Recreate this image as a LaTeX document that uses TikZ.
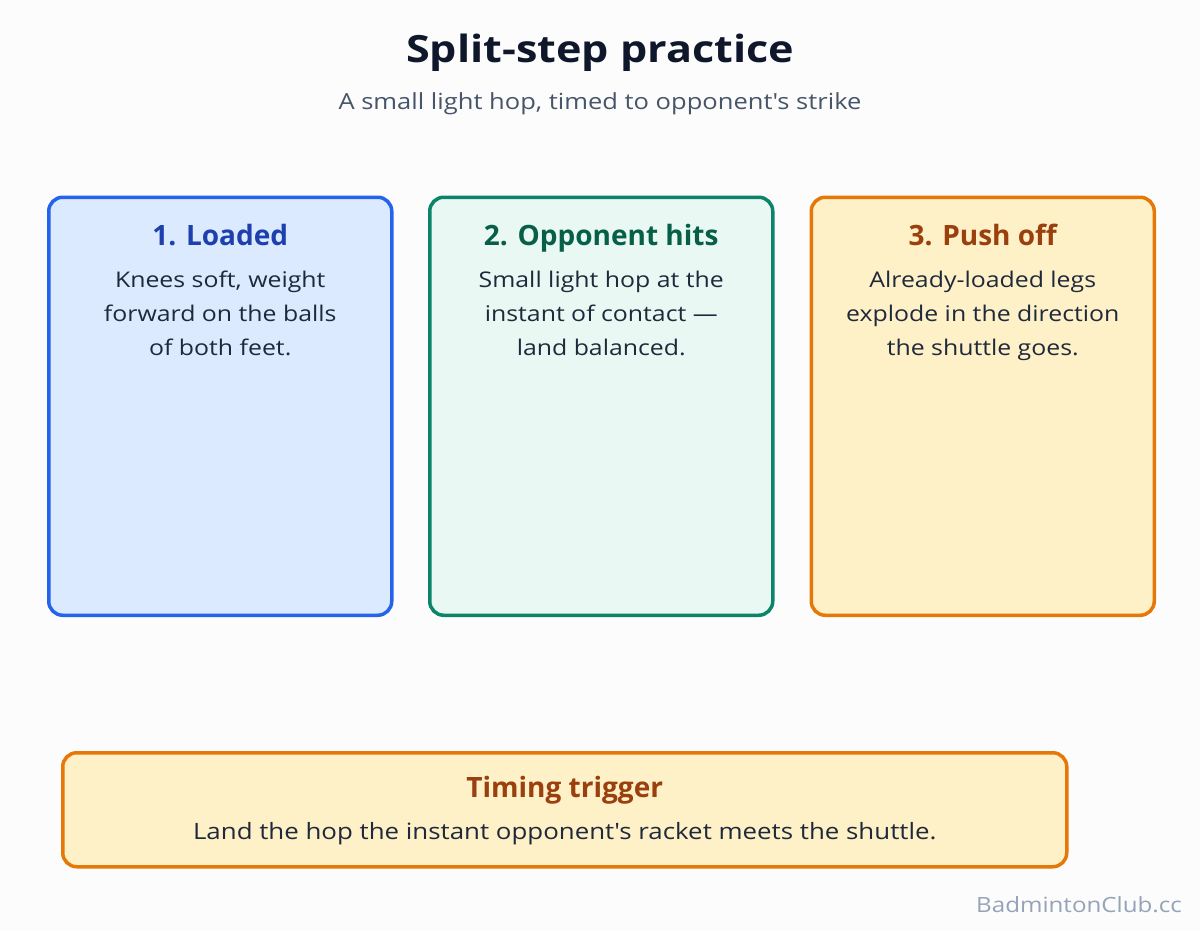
\documentclass[tikz,border=0pt]{standalone}
\usepackage{fontspec}
\setmainfont{Open Sans}
\newfontfamily\widesans{Open Sans}[FakeStretch=1.15, Ligatures=TeX]
\usetikzlibrary{positioning}

\definecolor{pagebg}{HTML}{FCFCFD}
\definecolor{ink}{HTML}{0F172A}
\definecolor{bodyink}{HTML}{1E293B}
\definecolor{subink}{HTML}{475569}
\definecolor{markink}{HTML}{94A3B8}
\definecolor{blueline}{HTML}{2563EB}
\definecolor{bluefill}{HTML}{DBEAFE}
\definecolor{bluehead}{HTML}{1E40AF}
\definecolor{greenline}{HTML}{0B8468}
\definecolor{greenfill}{HTML}{EAF8F4}
\definecolor{greenhead}{HTML}{065F46}
\definecolor{orangeline}{HTML}{E6780A}
\definecolor{orangefill}{HTML}{FEF0C7}
\definecolor{orangehead}{HTML}{9A3F0E}

\begin{document}
\begin{tikzpicture}[
    x=1pt, y=-1pt,
    card/.style={draw, line width=3.5pt, rounded corners=14pt, anchor=north west,
                 minimum width=343pt, minimum height=418pt},
    cardhead/.style={inner sep=0pt, anchor=base, font=\fontsize{28}{32}\selectfont\bfseries},
    cardtext/.style={inner sep=0pt, anchor=base, align=center, text=bodyink,
                     font=\widesans\fontsize{21.6}{34}\selectfont}
]
\useasboundingbox[fill=pagebg] (0,0) rectangle (1200,930);

% heading
\node[inner sep=0pt, anchor=base, text=ink, font=\widesans\fontsize{37.5}{40}\selectfont\bfseries]
    (title) at (600,62) {Split-step practice};
\node[inner sep=0pt, below=47pt of title.base, anchor=base, text=subink,
      font=\widesans\fontsize{22.2}{26}\selectfont] (subtitle) {A small light hop, timed to opponent\textquotesingle s strike};

% the three phases
\node[card, draw=blueline, fill=bluefill] (loaded) at (47,195.5) {};
\node[card, draw=greenline, fill=greenfill] (hits) at (428,195.5) {};
\node[card, draw=orangeline, fill=orangefill] (push) at (809.5,195.5) {};

% body nodes sit on the baseline of their last line
\node[cardhead, text=bluehead, below=50pt of loaded.north, anchor=base] (loadedhead) {1. Loaded};
\node[cardtext, below=110pt of loadedhead.base, anchor=base] (loadedtext)
    {Knees soft, weight\\forward on the balls\\of both feet.};

\node[cardhead, text=greenhead, below=50pt of hits.north, anchor=base] (hitshead) {2. Opponent hits};
\node[cardtext, below=110pt of hitshead.base, anchor=base] (hitstext)
    {Small light hop at the\\instant of contact \textemdash\\land balanced.};

\node[cardhead, text=orangehead, below=50pt of push.north, anchor=base] (pushhead) {3. Push off};
\node[cardtext, below=110pt of pushhead.base, anchor=base] (pushtext)
    {Already-loaded legs\\explode in the direction\\the shuttle goes.};

% timing box
\node[draw=orangeline, fill=orangefill, line width=3.5pt, rounded corners=14pt, anchor=north west,
      minimum width=1004pt, minimum height=114pt] (trigger) at (61,751) {};
\node[cardhead, text=orangehead, below=46pt of trigger.north, anchor=base] (triggerhead) {Timing trigger};
\node[cardtext, font=\widesans\fontsize{22.5}{34}\selectfont, below=42pt of triggerhead.base, anchor=base]
    (triggertext) {Land the hop the instant opponent\textquotesingle s racket meets the shuttle.};

\node[inner sep=0pt, anchor=base east, text=markink, font=\widesans\fontsize{21}{24}\selectfont]
    (mark) at (1182,912) {BadmintonClub.cc};
\end{tikzpicture}
\end{document}
